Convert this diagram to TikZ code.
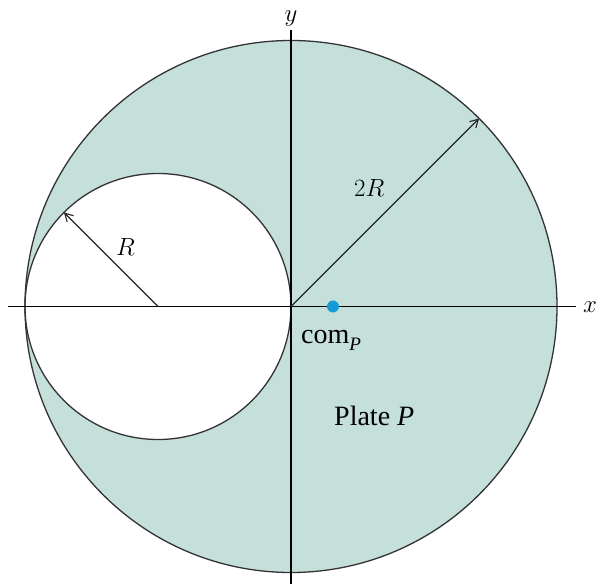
\documentclass[tikz,border=0pt]{standalone}
\usepackage{fontspec}
\setmainfont{Liberation Serif}
\usetikzlibrary{arrows.meta,calc}
\definecolor{platefill}{RGB}{197,223,218}
\definecolor{comblue}{RGB}{20,155,215}
\begin{document}
\begin{tikzpicture}[x=1pt,y=1pt,
  rim/.style={draw=black!80, line width=1.3pt},
  axisline/.style={draw=black, line width=1.7pt},
  radarrow/.style={draw=black!85, line width=1.1pt, -{Straight Barb[length=8pt,width=9pt]}},
  mathlabel/.style={font=\fontsize{29}{32}\selectfont, inner sep=0pt},
  textlabel/.style={font=\fontsize{28}{32}\selectfont, inner sep=0pt}]
\useasboundingbox (-291,-277.5) rectangle (307,306.5);
\coordinate (O) at (0,0);
\coordinate (C) at (-133,0);
\fill[platefill, even odd rule] (O) circle[radius=266] (C) circle[radius=133];
\draw[rim] (O) circle[radius=266];
\draw[rim] (C) circle[radius=133];
% axes
\coordinate (xl) at (-283,0);
\coordinate (xr) at (285,0);
\coordinate (yt) at (0,276);
\coordinate (yb) at (0,-277.5);
\draw[axisline] (xl) -- (xr);
\draw[axisline] (yb) -- (yt);
\node[mathlabel] (xlab) at (299,-1) {$x$};
\node[mathlabel] (ylab) at (0,288) {$y$};
% radii
\coordinate (tipbig) at (45:266);
\coordinate (tipsmall) at ($(C)+(135:133)$);
\draw[radarrow] (O) -- (tipbig);
\draw[radarrow] (C) -- (tipsmall);
\node[mathlabel, anchor=base west] (twoR) at (63,109.5) {$2R$};
\node[mathlabel, anchor=base west] (oneR) at (-175,50.5) {$R$};
% centre of mass
\node[circle, fill=comblue, inner sep=0pt, minimum size=12pt] (com) at (42,0) {};
\node[textlabel, anchor=base west] (comlab) at (10,-36.5) {com\raisebox{-0.28em}{\fontsize{19}{20}\selectfont\itshape P}};
\node[textlabel, anchor=base west] (platelab) at (43,-118.5) {Plate \textit{P}};
\end{tikzpicture}
\end{document}
